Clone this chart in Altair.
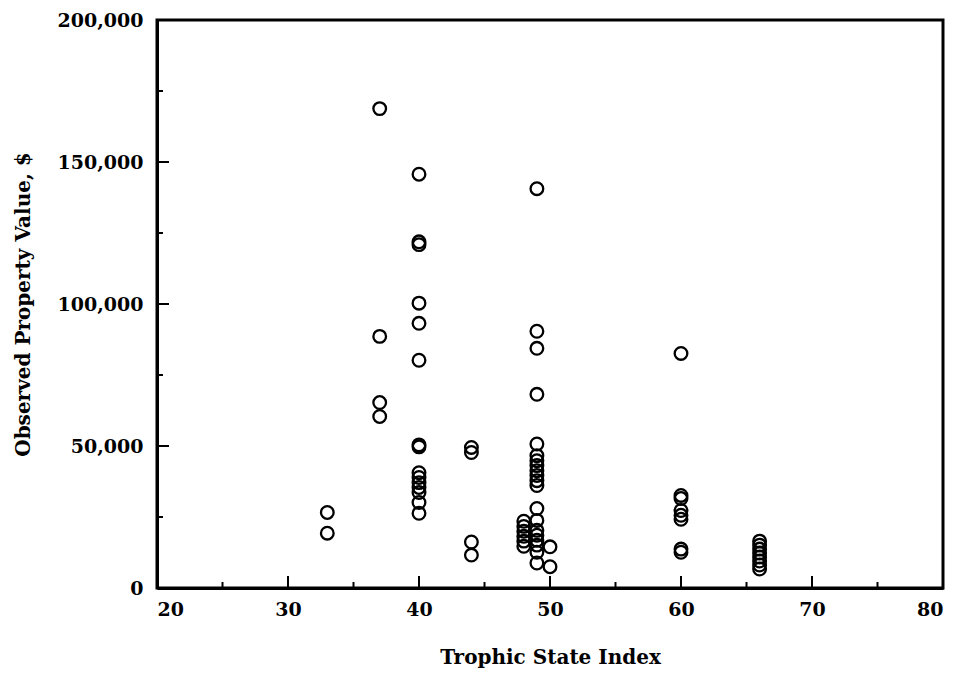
import altair as alt
import pandas as pd

# Trophic State Index (x) and observed property value in $ (y)
tsi_33 = [33, 33]
val_33 = [26600, 19300]
tsi_37 = [37, 37, 37, 37]
val_37 = [168800, 88600, 65300, 60400]
tsi_40 = [40] * 15
val_40 = [145700, 121900, 120900, 100300, 93200, 80200, 50400, 49700,
          40600, 38900, 37100, 35400, 33600, 30100, 26300]
tsi_44 = [44] * 4
val_44 = [49500, 47700, 16200, 11600]
tsi_48 = [48] * 6
val_48 = [23500, 21700, 20000, 18200, 16500, 14700]
tsi_49 = [49] * 20
val_49 = [140600, 90400, 84400, 68200, 50700, 46600, 44800, 43100, 41300,
          39600, 37800, 36100, 28000, 23800, 20300, 18600, 16800, 15100,
          12600, 8800]
tsi_50 = [50, 50]
val_50 = [14500, 7500]
tsi_60 = [60] * 8
val_60 = [82600, 32600, 31500, 27300, 25600, 24200, 13700, 12600]
tsi_66 = [66] * 8
val_66 = [16500, 15100, 13700, 12300, 10900, 9500, 8100, 6700]

x_major = [20, 30, 40, 50, 60, 70, 80]
x_minor = [25, 35, 45, 55, 65, 75]
y_major = [0, 50000, 100000, 150000, 200000]
y_minor = [25000, 75000, 125000, 175000]

tsi = tsi_33 + tsi_37 + tsi_40 + tsi_44 + tsi_48 + tsi_49 + tsi_50 + tsi_60 + tsi_66
val = val_33 + val_37 + val_40 + val_44 + val_48 + val_49 + val_50 + val_60 + val_66
df = pd.DataFrame({"tsi": tsi, "value": val})

W, H = 786, 568
FONT = "DejaVu Serif"

xscale = alt.Scale(domain=[20, 80], nice=False, zero=False)
yscale = alt.Scale(domain=[0, 200000], nice=False)

points = alt.Chart(df).mark_point(
    shape="circle", filled=False, color="black", size=160, strokeWidth=2.3, opacity=1
).encode(
    x=alt.X("tsi:Q", scale=xscale,
            axis=alt.Axis(title="Trophic State Index", values=x_major, format="d",
                          tickSize=0, labelPadding=12, titlePadding=28, grid=False,
                          domainColor="black", domainWidth=3,
                          labelFont=FONT, labelFontWeight="bold", labelFontSize=19,
                          labelColor="black",
                          titleFont=FONT, titleFontWeight="bold", titleFontSize=20,
                          titleColor="black")),
    y=alt.Y("value:Q", scale=yscale,
            axis=alt.Axis(title="Observed Property Value, $", values=y_major, format=",d",
                          tickSize=0, labelPadding=14, titlePadding=24, grid=False,
                          domainColor="black", domainWidth=3,
                          labelFont=FONT, labelFontWeight="bold", labelFontSize=19,
                          labelColor="black",
                          titleFont=FONT, titleFontWeight="bold", titleFontSize=20,
                          titleColor="black")),
)

xt_major = alt.Chart(pd.DataFrame({"t": x_major[1:-1]})).mark_rule(
    color="black", strokeWidth=2
).encode(x=alt.X("t:Q", scale=xscale), y=alt.value(H), y2=alt.value(H - 12))
xt_minor = alt.Chart(pd.DataFrame({"t": x_minor})).mark_rule(
    color="black", strokeWidth=2
).encode(x=alt.X("t:Q", scale=xscale), y=alt.value(H), y2=alt.value(H - 6))
yt_major = alt.Chart(pd.DataFrame({"t": y_major[1:-1]})).mark_rule(
    color="black", strokeWidth=2
).encode(y=alt.Y("t:Q", scale=yscale), x=alt.value(0), x2=alt.value(12))
yt_minor = alt.Chart(pd.DataFrame({"t": y_minor})).mark_rule(
    color="black", strokeWidth=2
).encode(y=alt.Y("t:Q", scale=yscale), x=alt.value(0), x2=alt.value(6))

chart = alt.layer(points, xt_major, xt_minor, yt_major, yt_minor).properties(
    width=W, height=H,
    autosize=alt.AutoSizeParams(type="none"),
    padding={"left": 149, "top": 12, "right": 10, "bottom": 80},
    background="white",
).configure_view(stroke="black", strokeWidth=3)

chart.save("out.html", embed_options={"renderer": "svg", "actions": False})
